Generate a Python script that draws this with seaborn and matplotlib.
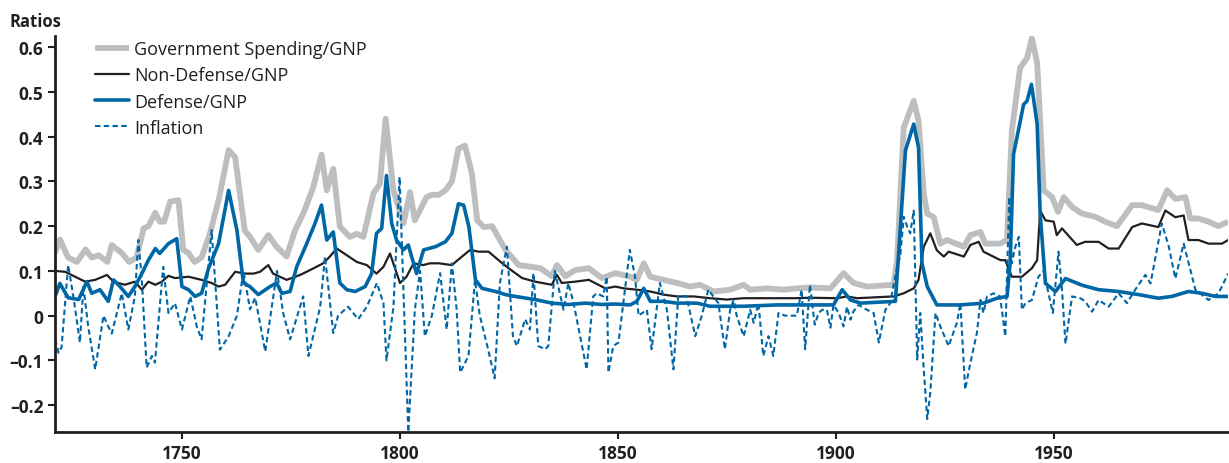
import numpy as np
import pandas as pd
import matplotlib.pyplot as plt
import seaborn as sns

# Values (year, ratio)
gov_years = [1721, 1722.1, 1724, 1726, 1728, 1729.4, 1731, 1733, 1734, 1735, 1736.3, 1738, 1739.7,
             1741.3, 1742.4, 1744, 1745, 1746, 1747.4, 1749.3, 1750.4, 1751.6, 1753, 1754.6, 1756.5,
             1758.5, 1760.8, 1762.3, 1764.5, 1765.7, 1767.6, 1769.9, 1771.8, 1774.1, 1776, 1778,
             1780.2, 1782.1, 1783.3, 1784.8, 1786.3, 1788.6, 1790.2, 1791.7, 1794, 1795.5, 1796.8,
             1798.6, 1800.9, 1802.4, 1803.5, 1806.2, 1807.4, 1809, 1810.5, 1812, 1813.5, 1815,
             1816.6, 1817.8, 1819.3, 1821.2, 1824.3, 1827.3, 1829.6, 1832.3, 1834.9, 1836.1, 1838,
             1840.3, 1843.4, 1846.4, 1849.5, 1852.9, 1854.4, 1856, 1857.5, 1860.5, 1863.6, 1866.6,
             1868.9, 1872, 1875.8, 1878.9, 1880.4, 1884.2, 1888, 1891.1, 1894.2, 1898.8, 1901.8,
             1904.1, 1907.2, 1913.3, 1914.1, 1915.6, 1917.9, 1919, 1920.2, 1921, 1922.5, 1924,
             1925.5, 1929.4, 1930.9, 1933.2, 1934.3, 1937.8, 1939.3, 1940.4, 1942.3, 1943.9, 1945,
             1946.2, 1947.7, 1949.6, 1951, 1952.3, 1954.2, 1956.5, 1959.5, 1961.8, 1964.5, 1968,
             1970.2, 1974, 1976, 1977.9, 1980.2, 1981.3, 1983.2, 1985.5, 1987.8, 1990]
gov_vals = [0.14, 0.17, 0.13, 0.12, 0.148, 0.13, 0.135, 0.12, 0.158, 0.15, 0.14, 0.12, 0.13,
            0.195, 0.2, 0.23, 0.21, 0.21, 0.255, 0.258, 0.147, 0.14, 0.12, 0.13, 0.183,
            0.258, 0.37, 0.354, 0.19, 0.176, 0.147, 0.18, 0.154, 0.132, 0.19, 0.23,
            0.287, 0.36, 0.28, 0.328, 0.199, 0.176, 0.183, 0.176, 0.273, 0.295, 0.44,
            0.28, 0.206, 0.276, 0.213, 0.265, 0.27, 0.27, 0.28, 0.30, 0.373, 0.38,
            0.317, 0.213, 0.198, 0.2, 0.147, 0.113, 0.11, 0.106, 0.088, 0.113, 0.088,
            0.102, 0.106, 0.084, 0.095, 0.087, 0.08, 0.117, 0.087, 0.08, 0.073, 0.065,
            0.069, 0.054, 0.058, 0.069, 0.058, 0.061, 0.058, 0.061, 0.063, 0.061, 0.095,
            0.073, 0.065, 0.069, 0.125, 0.42, 0.48, 0.435, 0.272, 0.228, 0.22, 0.161,
            0.169, 0.154, 0.18, 0.187, 0.161, 0.161, 0.17, 0.413, 0.554, 0.576, 0.62,
            0.565, 0.28, 0.265, 0.232, 0.265, 0.243, 0.228, 0.221, 0.21, 0.2, 0.247,
            0.247, 0.236, 0.28, 0.261, 0.265, 0.217, 0.217, 0.21, 0.2, 0.21]

nondef_years = [1721, 1723.3, 1725.6, 1727.9, 1730.2, 1732.9, 1734.4, 1737, 1739.3, 1740.9, 1742.4,
                1744, 1745.5, 1747, 1748.5, 1751.6, 1754.6, 1756.9, 1758.5, 1760, 1762.3, 1764.6,
                1766.5, 1768, 1769.9, 1771, 1774.1, 1777.2, 1779.5, 1782.5, 1784, 1785.6, 1787.9,
                1790.2, 1792.5, 1794.7, 1796.3, 1797.8, 1800.1, 1801.6, 1803.2, 1805.4, 1807, 1809,
                1812, 1814.3, 1816.2, 1818.1, 1820.4, 1822.7, 1825, 1828.1, 1831.1, 1834.9, 1836.1,
                1837.2, 1840.3, 1843.4, 1847.2, 1849.5, 1851.4, 1854.4, 1857.5, 1860.5, 1863.6,
                1867.4, 1871.2, 1875, 1878.9, 1882.7, 1886.5, 1890.4, 1894.2, 1900.3, 1902.6,
                1904.9, 1913.3, 1915.6, 1917.9, 1919, 1920.2, 1921.7, 1923.2, 1924.8, 1925.9,
                1929.4, 1930.9, 1932.8, 1933.9, 1937.8, 1938.9, 1940.4, 1942.7, 1945, 1946.2,
                1946.9, 1948.1, 1950, 1950.7, 1951.9, 1955.3, 1957.2, 1960.3, 1962.6, 1964.9,
                1968, 1970.2, 1974, 1975.6, 1977.9, 1979.8, 1980.9, 1983.2, 1985.5, 1988.6, 1990]
nondef_vals = [0.10, 0.098, 0.087, 0.076, 0.08, 0.091, 0.076, 0.069, 0.076, 0.058, 0.076,
               0.069, 0.076, 0.089, 0.084, 0.087, 0.08, 0.073, 0.065, 0.069, 0.098, 0.094,
               0.094, 0.098, 0.113, 0.094, 0.08, 0.091, 0.102, 0.117, 0.132, 0.15, 0.135,
               0.12, 0.113, 0.094, 0.109, 0.139, 0.073, 0.087, 0.117, 0.113, 0.117, 0.117,
               0.113, 0.132, 0.147, 0.143, 0.143, 0.124, 0.106, 0.084, 0.076, 0.069, 0.091,
               0.073, 0.076, 0.08, 0.061, 0.065, 0.061, 0.058, 0.054, 0.047, 0.043,
               0.043, 0.039, 0.036, 0.039, 0.039, 0.039, 0.039, 0.04, 0.039, 0.043,
               0.039, 0.043, 0.05, 0.061, 0.08, 0.154, 0.184, 0.146, 0.132, 0.143,
               0.132, 0.158, 0.165, 0.143, 0.124, 0.124, 0.087, 0.087, 0.106, 0.124,
               0.235, 0.213, 0.21, 0.18, 0.195, 0.158, 0.165, 0.165, 0.15, 0.15,
               0.198, 0.206, 0.198, 0.235, 0.22, 0.224, 0.169, 0.169, 0.161, 0.161, 0.169]

def_years = [1721, 1722.1, 1724, 1726.4, 1728.3, 1729.4, 1731.3, 1733.2, 1734.4, 1735.9, 1737.8,
             1739.3, 1740.9, 1742.4, 1744, 1745, 1747, 1748.9, 1750.1, 1751.6, 1753.1, 1754.6,
             1756.2, 1758.5, 1760.8, 1762.7, 1764.2, 1765.7, 1767.6, 1770.3, 1771.8, 1773, 1774.9,
             1776.4, 1778.7, 1780.6, 1782.1, 1783.3, 1784.8, 1786.3, 1787.9, 1789.8, 1792.1,
             1793.6, 1794.7, 1795.9, 1797, 1798.2, 1799.3, 1800.9, 1802, 1803.9, 1805.5, 1808.2,
             1810.5, 1812, 1813.5, 1814.7, 1815.9, 1817.4, 1818.9, 1822, 1824.3, 1826.5, 1831.1,
             1834.9, 1838.8, 1842.6, 1846.4, 1849.5, 1852.9, 1854.4, 1856, 1857.5, 1860.5,
             1863.6, 1868.2, 1871.2, 1878.9, 1886.5, 1894.2, 1899.5, 1901.5, 1903.4, 1905.7,
             1913.7, 1914.8, 1916, 1917.9, 1919, 1919.8, 1921, 1923.2, 1928.6, 1933.9, 1937,
             1939.3, 1940, 1940.8, 1943.1, 1943.9, 1944.9, 1946.2, 1946.9, 1948.1, 1950.4,
             1952.7, 1956.5, 1960.3, 1964.9, 1969.5, 1974, 1977.1, 1980.9, 1984, 1987.1, 1990]
def_vals = [0.043, 0.072, 0.04, 0.036, 0.076, 0.05, 0.058, 0.032, 0.08, 0.065, 0.043,
            0.065, 0.094, 0.124, 0.15, 0.139, 0.161, 0.172, 0.065, 0.058, 0.043, 0.05,
            0.106, 0.161, 0.28, 0.191, 0.073, 0.065, 0.047, 0.065, 0.073, 0.05, 0.054,
            0.109, 0.161, 0.206, 0.247, 0.169, 0.187, 0.073, 0.058, 0.054, 0.065,
            0.094, 0.184, 0.195, 0.313, 0.206, 0.169, 0.147, 0.158, 0.094, 0.147, 0.154,
            0.165, 0.184, 0.25, 0.247, 0.198, 0.08, 0.061, 0.054, 0.047, 0.043, 0.036,
            0.028, 0.025, 0.028, 0.025, 0.026, 0.024, 0.032, 0.061, 0.032, 0.032,
            0.028, 0.028, 0.021, 0.021, 0.024, 0.024, 0.024, 0.058, 0.035, 0.028,
            0.032, 0.191, 0.369, 0.428, 0.376, 0.117, 0.065, 0.024, 0.024, 0.028, 0.039,
            0.043, 0.117, 0.361, 0.472, 0.48, 0.517, 0.428, 0.228, 0.072, 0.054,
            0.083, 0.068, 0.058, 0.054, 0.047, 0.039, 0.043, 0.054, 0.05, 0.043, 0.043]

infl_years = [1721, 1721.8, 1722.5, 1724, 1725.2, 1726.7, 1727.5, 1728.6, 1730.2, 1732.1, 1733.2,
              1734, 1736.3, 1737.8, 1739.3, 1740.1, 1740.9, 1742, 1743.2, 1743.9, 1745.8, 1747,
              1748.5, 1750.1, 1752, 1753.5, 1754.6, 1756.9, 1758.8, 1760.8, 1762.7, 1764.2, 1765.7,
              1766.9, 1769.2, 1771.9, 1773.3, 1774.9, 1777.9, 1779.1, 1781.8, 1782.9, 1784.8,
              1785.9, 1788.2, 1790.5, 1792.5, 1794.8, 1796.3, 1797, 1798.6, 1800, 1802, 1803.5,
              1804.7, 1805.8, 1807.4, 1809.3, 1810.8, 1812, 1813.1, 1813.9, 1815.8, 1817.3, 1818.4,
              1820.3, 1821.8, 1823, 1824.6, 1826, 1826.9, 1828.8, 1829.9, 1830.7, 1831.8, 1833.4,
              1834.1, 1835.6, 1837.6, 1838.7, 1839.9, 1842.9, 1844.4, 1845.2, 1846.7, 1847.5,
              1847.9, 1849, 1850.2, 1852.8, 1854, 1854.8, 1856.7, 1857.8, 1859.7, 1861.3, 1862.8,
              1863.9, 1865.8, 1867.8, 1869.3, 1870.8, 1873.1, 1874.6, 1875.8, 1876.6, 1877.3,
              1878.9, 1880.4, 1881.2, 1882.3, 1883.4, 1884.6, 1885.7, 1886.9, 1888.4, 1891.1,
              1892.2, 1893, 1894.1, 1895.2, 1896.1, 1896.9, 1898, 1898.8, 1899.5, 1900.7, 1901.8,
              1902.6, 1903.4, 1904.1, 1905.3, 1907.2, 1908.7, 1909.9, 1911.4, 1912.5, 1914.1,
              1914.8, 1915.6, 1916.4, 1917.1, 1917.9, 1918.7, 1919.4, 1920.2, 1921, 1921.7, 1922.9,
              1924, 1925.9, 1927.8, 1928.6, 1929.7, 1930.9, 1932.4, 1933.2, 1933.9, 1934.7, 1936.2,
              1937.7, 1938.9, 1939.8, 1940.4, 1941.2, 1942, 1942.7, 1943.5, 1945, 1946.5, 1947.7,
              1948.8, 1949.8, 1951.1, 1951.9, 1952.7, 1954.2, 1956.1, 1957.2, 1958.8, 1960.3,
              1962.6, 1964.9, 1966.8, 1968.7, 1971, 1972.2, 1974.8, 1976.4, 1977.9, 1979.8, 1982.5,
              1985.5, 1987.8, 1990]
infl_vals = [-0.053, -0.083, -0.07, 0.113, 0.043, -0.06, 0.065, -0.024, -0.12, 0.0, -0.024,
             -0.04, 0.05, -0.031, 0.043, 0.169, 0.08, -0.116, -0.09, -0.105, 0.109, 0.006,
             0.028, -0.031, 0.043, -0.024, -0.053, 0.191, -0.076, -0.046, 0.0, 0.1, 0.014,
             0.04, -0.08, 0.1, 0.006, -0.053, 0.043, -0.09, 0.02, 0.132, -0.039,
             0.0, 0.02, -0.008, 0.02, 0.073, 0.028, -0.1, 0.02, 0.31, -0.26, 0.013,
             0.1, -0.046, 0.0, 0.095, -0.031, 0.117, 0.013, -0.127, -0.09, 0.08, 0.0,
             -0.075, -0.14, 0.073, 0.154, -0.046, -0.068, -0.008, -0.031, 0.095, -0.068, -0.075,
             -0.068, 0.1, 0.013, 0.073, 0.028, -0.12, 0.043, 0.05, 0.043, 0.087,
             -0.127, -0.068, -0.06, 0.147, 0.087, 0.0, 0.013, -0.075, 0.073, 0.013, -0.12,
             0.043, 0.043, -0.046, 0.0, 0.058, 0.028, -0.075, 0.013, 0.035, 0.0,
             -0.046, 0.013, -0.016, 0.028, -0.09, -0.046, -0.09, 0.006, 0.0, 0.0,
             0.058, -0.075, 0.069, -0.02, 0.006, 0.013, 0.013, -0.027, 0.024, 0.006, -0.024,
             0.02, -0.009, 0.01, 0.024, 0.013, 0.006, -0.06, 0.013, 0.028, 0.11,
             0.132, 0.221, 0.199, 0.184, 0.235, -0.098, 0.006, -0.12, -0.231, -0.172, 0.006,
             -0.024, -0.068, -0.016, 0.028, -0.165, -0.105, -0.038, 0.035, 0.006, 0.043, 0.05,
             0.043, -0.046, 0.265, 0.117, 0.154, 0.176, 0.013, 0.028, 0.035, 0.087, 0.1,
             0.05, 0.006, 0.143, 0.058, -0.063, 0.043, 0.039, 0.032, 0.009, 0.035,
             0.02, 0.05, 0.028, 0.058, 0.091, 0.072, 0.206, 0.154, 0.083, 0.161, 0.058,
             0.035, 0.05, 0.094]

gray = '#BCBEC0'
black = '#231F20'
blue = '#0067A6'

sns.set_style('ticks')
plt.rcParams['font.family'] = ['Open Sans', 'DejaVu Sans']

fig = plt.figure(figsize=(12.29, 4.64), dpi=100)
ax = fig.add_axes([0.0448, 0.0668, 0.9545, 0.8535])

sns.lineplot(x=gov_years, y=gov_vals, ax=ax, color=gray, linewidth=4.2,
             label='Government Spending/GNP', solid_capstyle='butt')
sns.lineplot(x=nondef_years, y=nondef_vals, ax=ax, color=black, linewidth=1.6,
             label='Non-Defense/GNP')
sns.lineplot(x=def_years, y=def_vals, ax=ax, color=blue, linewidth=2.6,
             label='Defense/GNP')
sns.lineplot(x=infl_years, y=infl_vals, ax=ax, color=blue, linewidth=1.5,
             label='Inflation', linestyle=(0, (2.6, 1.6)))

ax.set_xlim(1721, 1990)
ax.set_ylim(-0.26, 0.625)
ax.set_xticks([1750, 1800, 1850, 1900, 1950])
ax.set_yticks([-0.2, -0.1, 0, 0.1, 0.2, 0.3, 0.4, 0.5, 0.6])
ax.set_yticklabels(['\u20130.2', '\u20130.1', '0', '0.1', '0.2', '0.3', '0.4', '0.5', '0.6'])
ax.set_xlabel('')
ax.set_ylabel('')
sns.despine(ax=ax)
for side in ['left', 'bottom']:
    ax.spines[side].set_linewidth(2)
    ax.spines[side].set_color(black)
ax.tick_params(axis='both', direction='out', length=5, width=1.5, color=black,
               labelsize=12.5, labelcolor=black)
for lab in ax.get_xticklabels() + ax.get_yticklabels():
    lab.set_fontweight('bold')

fig.text(0.008, 0.953, 'Ratios', fontsize=12, fontweight='bold', color=black, va='center')

leg = ax.legend(loc='upper left', bbox_to_anchor=(0.02, 1.03), frameon=False,
                fontsize=13, handlelength=1.9, handletextpad=0.3, labelspacing=0.45)
for t in leg.get_texts():
    t.set_color(black)

fig.savefig('out.png', dpi=100)
